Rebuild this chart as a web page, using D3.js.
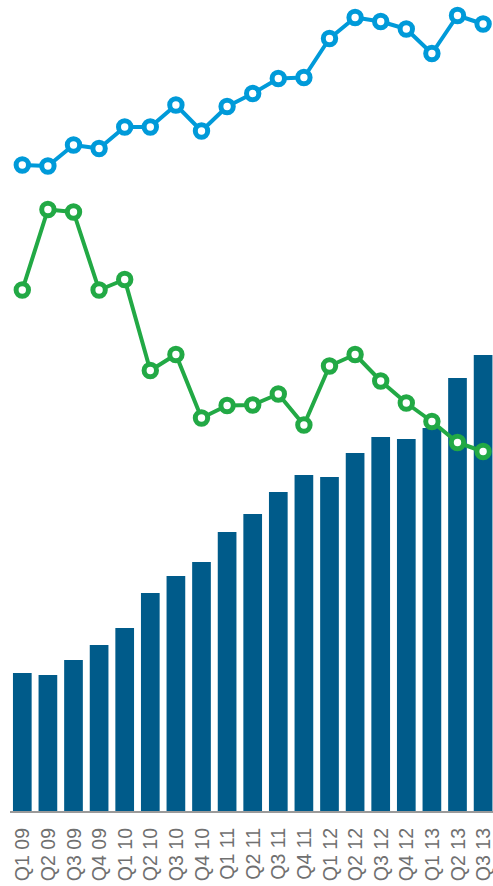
<!DOCTYPE html>
<html>
<head>
<meta charset="utf-8">
<script src="https://cdn.jsdelivr.net/npm/d3@7"></script>
<style>
  html, body { margin: 0; padding: 0; background: #fff; }
  svg { display: block; }
</style>
</head>
<body>
<svg id="chart" width="493" height="886"></svg>
<script>
// Quarterly periods
const quarters = ["Q1 09","Q2 09","Q3 09","Q4 09","Q1 10","Q2 10","Q3 10","Q4 10",
  "Q1 11","Q2 11","Q3 11","Q4 11","Q1 12","Q2 12","Q3 12","Q4 12","Q1 13","Q2 13","Q3 13"];

// Column series
const barValues = [138,136,151,166,183,218,235,249,279,297,319,336,334,358,374,372,383,433,456];

// Green line series
const greenValues = [521,601.5,599,521,531.5,440.5,456.5,393,405.5,406,417,386,445,456.5,430,408,389.5,368.5,359.5];

// Blue line series
const blueValues = [646,645,666,662.5,684,684,706,680,704.5,717.5,732.5,733.5,772.5,793.5,789.5,782,757.5,795.5,787];

const colors = { bar: "#005b8a", green: "#22a945", blue: "#009ad9", axis: "#9a9a9a", text: "#707070" };

const svg = d3.select("#chart");
const baseY = 811;

const x = d3.scaleBand()
  .domain(quarters)
  .range([9.5, 495.9])
  .paddingInner(0.27)
  .paddingOuter(0.135);

const y = d3.scaleLinear().domain([0, 811]).range([baseY, 0]);

// Columns
svg.append("g").selectAll("rect")
  .data(quarters)
  .join("rect")
  .attr("x", d => x(d))
  .attr("width", x.bandwidth())
  .attr("y", (d, i) => y(barValues[i]))
  .attr("height", (d, i) => baseY - y(barValues[i]))
  .attr("fill", colors.bar);

// Baseline
svg.append("line")
  .attr("x1", 10).attr("x2", 493)
  .attr("y1", baseY + 1).attr("y2", baseY + 1)
  .attr("stroke", colors.axis).attr("stroke-width", 2);

// Category labels, rotated
svg.append("g").selectAll("text")
  .data(quarters)
  .join("text")
  .attr("transform", d => `translate(${x(d) + x.bandwidth() / 2},828) rotate(-90)`)
  .attr("text-anchor", "end")
  .attr("dy", "0.36em")
  .attr("font-family", "Liberation Sans, Arial, sans-serif")
  .attr("font-size", 19.5)
  .attr("fill", colors.text)
  .text(d => d);

// Line series with hollow markers
function drawLine(values, color) {
  const line = d3.line()
    .x((d, i) => x(quarters[i]) + x.bandwidth() / 2)
    .y(d => y(d));
  const g = svg.append("g");
  g.append("path")
    .datum(values)
    .attr("d", line)
    .attr("fill", "none")
    .attr("stroke", color)
    .attr("stroke-width", 4)
    .attr("stroke-linejoin", "round");
  g.selectAll("circle")
    .data(values)
    .join("circle")
    .attr("cx", (d, i) => x(quarters[i]) + x.bandwidth() / 2)
    .attr("cy", d => y(d))
    .attr("r", 6.2)
    .attr("fill", "#fff")
    .attr("stroke", color)
    .attr("stroke-width", 5);
}

drawLine(greenValues, colors.green);
drawLine(blueValues, colors.blue);
</script>
</body>
</html>
